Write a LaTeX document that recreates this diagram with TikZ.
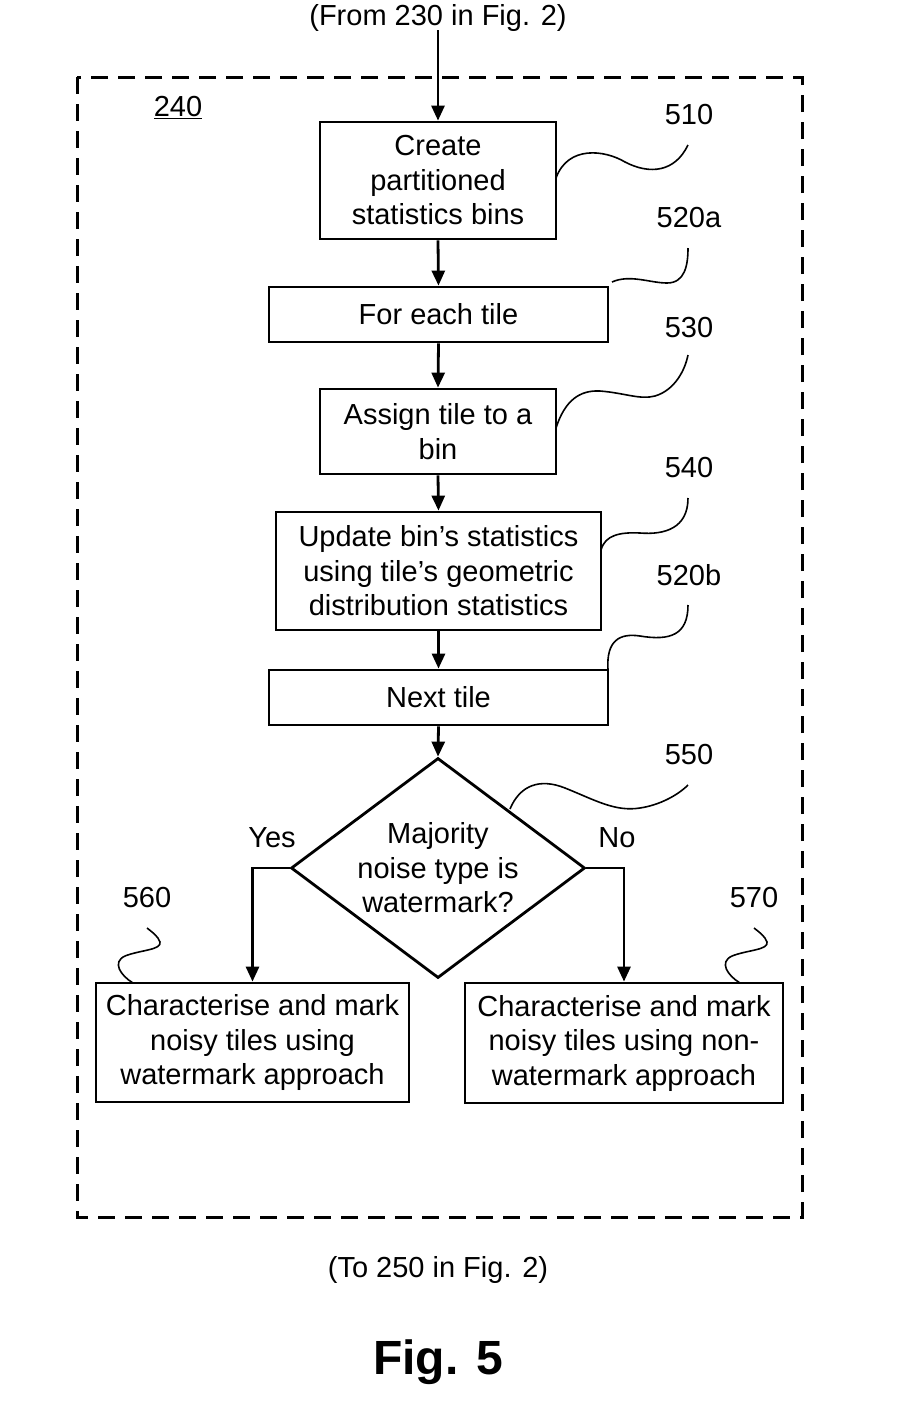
\documentclass[tikz,border=0pt]{standalone}
\usepackage{fontspec}
\setmainfont{Liberation Sans}
\usetikzlibrary{arrows.meta,shapes.geometric,calc}
\begin{document}
\begin{tikzpicture}[x=1pt,y=-1pt,
  font=\fontsize{29}{34.5}\selectfont,
  stepbox/.style={draw,line width=2.8pt,align=center,inner sep=0pt},
  flow/.style={line width=2.8pt,-{Triangle[length=15pt,width=13pt]}},
  leader/.style={line width=1.6pt},
  lbl/.style={inner sep=0pt}]
\useasboundingbox (0,0) rectangle (913,1401);
\draw[line width=3pt,dash pattern=on 17pt off 10pt] (77,77) rectangle (802,1217);
\node[lbl] (t240) at (178,108) {\underline{240}};
\node[lbl] (from) at (438,18) {(From 230 in Fig. 2)};
\coordinate (fromend) at (438,30);
\node[lbl] (to) at (438,1270) {(To 250 in Fig. 2)};
\node[lbl,font=\fontsize{48}{56}\bfseries] (fig) at (438,1362) {Fig. 5};

\node[stepbox,minimum width=236pt,minimum height=117pt] (b510) at (438,180.5) {Create\\partitioned\\statistics bins};
\node[stepbox,minimum width=339pt,minimum height=55pt] (b520a) at (438.5,314.5) {For each tile};
\node[stepbox,minimum width=236pt,minimum height=85pt] (b530) at (438,431.5) {Assign tile to a\\bin};
\node[stepbox,minimum width=325pt,minimum height=118pt] (b540) at (438.5,571) {Update bin’s statistics\\using tile’s geometric\\distribution statistics};
\node[stepbox,minimum width=339pt,minimum height=55pt] (b520b) at (438.5,697.5) {Next tile};
\node[diamond,draw,line width=2.8pt,minimum width=294pt,minimum height=220pt,inner sep=0pt] (d550) at (438,868) {};
\node[align=center,inner sep=0pt] (d550t) at (d550.center) {Majority\\noise type is\\watermark?};
\node[stepbox,minimum width=313pt,minimum height=119pt] (b560) at (252.5,1042.5) {Characterise and mark\\noisy tiles using\\watermark approach};
\node[stepbox,minimum width=318pt,minimum height=120pt] (b570) at (624,1043) {Characterise and mark\\noisy tiles using non-\\watermark approach};

\draw[flow] (fromend) -- (b510.north);
\draw[flow] (b510.south) -- (b520a.north);
\draw[flow] (b520a.south) -- (b530.north);
\draw[flow] (b530.south) -- (b540.north);
\draw[flow] (b540.south) -- (b520b.north);
\draw[flow] (b520b.south) -- (d550.north);
\draw[flow] (d550.west) -| (b560.north);
\draw[flow] (d550.east) -| (b570.north);
\node[lbl] (yes) at (272,838) {Yes};
\node[lbl] (no) at (617,838) {No};

\node[lbl] (l510) at (689,115) {510};
\node[lbl] (l520a) at (689,218) {520a};
\node[lbl] (l530) at (689,328) {530};
\node[lbl] (l540) at (689,468) {540};
\node[lbl] (l520b) at (689,575) {520b};
\node[lbl] (l550) at (689,755) {550};
\node[lbl] (l560) at (147,898) {560};
\node[lbl] (l570) at (754,898) {570};

\draw[leader] (556,178) .. controls (568,145) and (605,150) .. (625,162) .. controls (650,175) and (675,172) .. (688,145);
\draw[leader] (612,282) .. controls (630,274) and (650,283) .. (667,283) .. controls (685,283) and (688,265) .. (688,248);
\draw[leader] (556,428) .. controls (565,400) and (580,390) .. (600,391) .. controls (625,393) and (640,400) .. (655,396) .. controls (675,390) and (685,370) .. (688,355);
\draw[leader] (601,550) .. controls (605,535) and (620,532) .. (640,533) .. controls (665,535) and (688,528) .. (688,498);
\draw[leader] (608,670) .. controls (606,640) and (620,633) .. (640,636) .. controls (670,641) and (688,635) .. (688,605);
\draw[leader] (510,809) .. controls (520,785) and (540,778) .. (565,788) .. controls (595,800) and (615,812) .. (640,808) .. controls (660,805) and (678,795) .. (688,785);
\draw[leader] (133,983) .. controls (120,975) and (112,962) .. (125,956) .. controls (140,950) and (162,950) .. (160,942) .. controls (158,936) and (152,932) .. (147,928);
\draw[leader] (740,983) .. controls (727,975) and (719,962) .. (732,956) .. controls (747,950) and (769,950) .. (767,942) .. controls (765,936) and (759,932) .. (754,928);
\end{tikzpicture}
\end{document}
